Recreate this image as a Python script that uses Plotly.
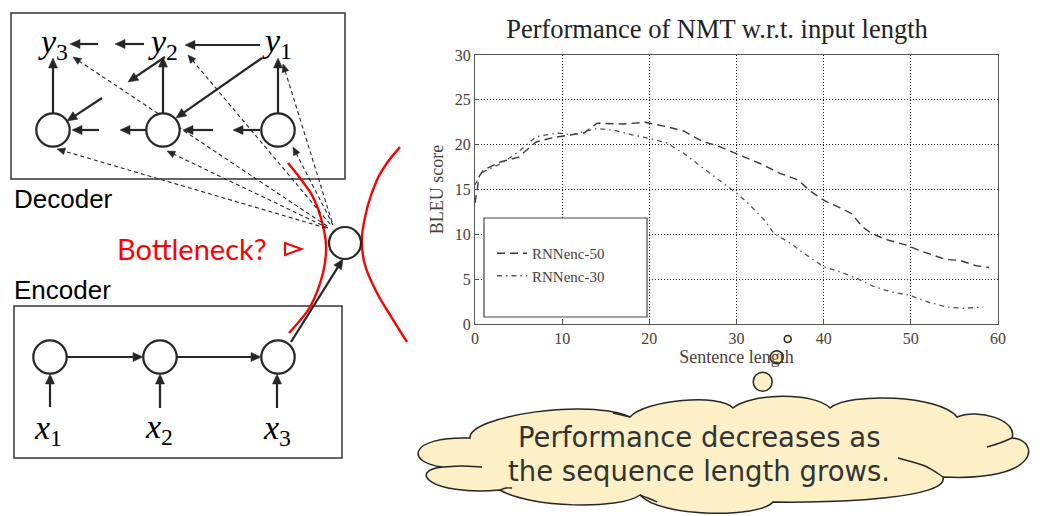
import math
import plotly.graph_objects as go

W, H = 1040, 516          # target picture
OFF = 8                   # page body margin
FW, FH = W - OFF, H - OFF  # figure size that fits the window

# ---------------- data ----------------
title_text = "Performance of NMT w.r.t. input length"
x_title = "Sentence length"
y_title = "BLEU score"
series_names = ["RNNenc-50", "RNNenc-30"]
x_ticks = [0, 10, 20, 30, 40, 50, 60]
y_ticks = [0, 5, 10, 15, 20, 25, 30]

len_50 = [0, 0.5, 1, 3, 5, 7, 9, 11, 12.5, 14, 17, 19.5, 22, 24, 26, 28, 30,
          32.7, 35, 37, 38.5, 40, 42, 43.2, 44.5, 45.5, 47.2, 49.5, 51, 52.6,
          54, 55.6, 57.5, 59]
bleu_50 = [13.5, 16.5, 17.2, 18.1, 18.6, 20.3, 20.8, 21.1, 21.3, 22.4, 22.3,
           22.5, 22.0, 21.5, 20.4, 19.8, 19.0, 17.9, 16.8, 16.1, 14.8, 13.8,
           12.9, 12.3, 10.8, 10.1, 9.4, 8.8, 8.2, 7.7, 7.2, 7.1, 6.5, 6.3]

len_30 = [0, 0.5, 1, 3, 5, 7, 9.5, 11, 14, 16, 18, 20, 22, 24, 26, 28, 30,
          31.3, 33.2, 34.3, 36.2, 37.7, 40, 41.9, 43.8, 45.7, 47.6, 49.9,
          51.8, 54.1, 56, 58.3]
bleu_30 = [15.5, 16.5, 17.0, 17.9, 19.2, 20.9, 21.3, 21.1, 21.8, 21.6, 21.1,
           20.7, 20.2, 19.0, 17.5, 16.1, 14.6, 13.5, 11.6, 10.1, 9.0, 7.9, 6.4,
           5.8, 5.1, 4.2, 3.6, 3.2, 2.5, 1.9, 1.75, 1.9]

decoder_label = "Decoder"
encoder_label = "Encoder"
bottleneck_label = "Bottleneck?"
cloud_lines = ["Performance decreases as", "the sequence length grows."]
out_labels = ["<i>y</i><sub>1</sub>", "<i>y</i><sub>2</sub>", "<i>y</i><sub>3</sub>"]
in_labels = ["<i>x</i><sub>1</sub>", "<i>x</i><sub>2</sub>", "<i>x</i><sub>3</sub>"]

# ---------------- helpers (window pixel -> paper) ----------------
def PX(x):
    return (x - OFF) / FW

def PY(y):
    return 1 - (y - OFF) / FH

def P(x, y):
    return PX(x), PY(y)

def fmt(p):
    x, y = P(*p)
    return f"{x:.5f},{y:.5f}"

def poly_path(pts, close=False):
    s = "M " + " L ".join(fmt(p) for p in pts)
    return s + (" Z" if close else "")

def smooth_path(pts):
    s = "M " + fmt(pts[0])
    n = len(pts)
    for i in range(n - 1):
        p0 = pts[i - 1] if i > 0 else pts[i]
        p1 = pts[i]
        p2 = pts[i + 1]
        p3 = pts[i + 2] if i + 2 < n else pts[i + 1]
        c1 = (p1[0] + (p2[0] - p0[0]) / 6, p1[1] + (p2[1] - p0[1]) / 6)
        c2 = (p2[0] - (p3[0] - p1[0]) / 6, p2[1] - (p3[1] - p1[1]) / 6)
        s += f" C {fmt(c1)} {fmt(c2)} {fmt(p2)}"
    return s

shapes = []
annotations = []
INK = "#262626"

def line_shape(pts, color=INK, width=2.2, dash=None, smooth=False):
    d = dict(type="path", xref="paper", yref="paper",
             path=smooth_path(pts) if smooth else poly_path(pts),
             line=dict(color=color, width=width))
    if dash:
        d["line"]["dash"] = dash
    shapes.append(d)

def arrow(tail, head, color=INK, width=2.2, dash=None, hl=10, hw=9):
    dx, dy = head[0] - tail[0], head[1] - tail[1]
    L = math.hypot(dx, dy)
    ux, uy = dx / L, dy / L
    nx, ny = -uy, ux
    base = (head[0] - ux * hl, head[1] - uy * hl)
    line_shape([tail, (base[0] + ux * 1, base[1] + uy * 1)], color, width, dash)
    tri = [head, (base[0] + nx * hw / 2, base[1] + ny * hw / 2),
           (base[0] - nx * hw / 2, base[1] - ny * hw / 2)]
    shapes.append(dict(type="path", xref="paper", yref="paper",
                       path=poly_path(tri, close=True), fillcolor=color,
                       line=dict(color=color, width=0.5)))

def circle(cx, cy, r, fill="white", color=INK, width=2.2):
    x0, y1 = P(cx - r, cy - r)
    x1, y0 = P(cx + r, cy + r)
    shapes.append(dict(type="circle", xref="paper", yref="paper",
                       x0=x0, x1=x1, y0=y0, y1=y1, fillcolor=fill,
                       line=dict(color=color, width=width)))

def rect(xa, ya, xb, yb, color="#333333", width=1.5, fill=None, layer="above"):
    x0, y1 = P(xa, ya)
    x1, y0 = P(xb, yb)
    d = dict(type="rect", xref="paper", yref="paper", x0=x0, x1=x1, y0=y0,
             y1=y1, line=dict(color=color, width=width), layer=layer)
    if fill:
        d["fillcolor"] = fill
    shapes.append(d)

def text(x, y, s, size, color="black", family="Liberation Sans",
         xanchor="center", yanchor="middle"):
    px, py = P(x, y)
    annotations.append(dict(x=px, y=py, xref="paper", yref="paper", text=s,
                            showarrow=False, xanchor=xanchor, yanchor=yanchor,
                            font=dict(size=size, color=color, family=family)))

# ---------------- cloud + bubbles ----------------
CLOUD = "#FEF0C6"
start = (470, 438)
lobes = [
    ((468, 416), (590, 398), (630, 417)),
    ((645, 400), (720, 393), (733, 408)),
    ((750, 393), (815, 392), (830, 408)),
    ((850, 392), (940, 395), (957, 417)),
    ((978, 408), (1018, 420), (1012, 438)),
    ((1040, 440), (1042, 482), (943, 477)),
    ((950, 498), (840, 503), (773, 502)),
    ((760, 518), (660, 518), (640, 495)),
    ((620, 510), (530, 508), (500, 490)),
    ((428, 496), (408, 470), (443, 467)),
    ((405, 463), (408, 436), (470, 438)),
]
cloud = "M " + fmt(start)
for c1, c2, e in lobes:
    cloud += f" C {fmt(c1)} {fmt(c2)} {fmt(e)}"
cloud += " Z"
shapes.append(dict(type="path", xref="paper", yref="paper", path=cloud,
                   fillcolor=CLOUD, line=dict(color=INK, width=1.5)))
# inner strokes of the cloud
line_shape([(443, 467), (462, 466), (482, 467)], width=1.4, smooth=True)
line_shape([(1012, 438), (1000, 443), (987, 447)], width=1.4, smooth=True)
line_shape([(943, 477), (925, 466), (898, 458)], width=1.4, smooth=True)
line_shape([(630, 417), (622, 415), (613, 413)], width=1.4, smooth=True)
line_shape([(640, 495), (648, 498), (657, 502)], width=1.4, smooth=True)
line_shape([(500, 490), (506, 488), (512, 488)], width=1.4, smooth=True)

circle(787.7, 339, 3.5, fill=CLOUD, width=1.5)
circle(776.7, 357.3, 6.5, fill=CLOUD, width=1.5)
circle(762.7, 381.7, 9.5, fill=CLOUD, width=1.5)

# ---------------- diagram ----------------
rect(11, 13, 345, 179)
rect(14, 306, 342, 458)

# red bottleneck curves
RED = "#FF0000"
line_shape([(288, 163), (300, 178), (313, 197), (321, 218), (326, 245),
            (323, 273), (310, 307), (289, 333)], RED, 2.4, smooth=True)
line_shape([(400, 147), (387, 163), (377, 180), (368, 205), (362, 237),
            (365, 265), (377, 293), (392, 318), (407, 342)], RED, 2.4, smooth=True)
shapes.append(dict(type="path", xref="paper", yref="paper",
                   path=poly_path([(285, 243), (301.5, 249), (285, 255)], close=True),
                   fillcolor="white", line=dict(color=RED, width=2)))

# dashed attention lines
dashed = [((327, 226), (73, 57)), ((330, 224), (188, 55)), ((332, 222), (283, 64)),
          ((326, 228), (57, 149)), ((328, 228), (167, 151)), ((333, 225), (293, 147))]
for tail, head in dashed:
    arrow(tail, head, width=1.1, dash="4px,3px", hl=8, hw=7)

# decoder arrows
for tail, head in [((260, 45), (185, 45)), ((144, 44), (115, 44)), ((98, 44), (70, 44)),
                   ((278, 113), (278, 58)), ((163, 113), (163, 57)), ((53, 113), (53, 58)),
                   ((262, 58), (176, 118)), ((165, 57), (128, 82)), ((102, 98), (67, 121)),
                   ((260, 130), (233, 130)), ((213, 130), (183, 130)),
                   ((147, 130), (120, 130)), ((99, 130), (72, 130))]:
    arrow(tail, head)

# encoder arrows
for tail, head in [((67, 357), (143, 357)), ((177, 357), (261, 357)),
                   ((50, 407), (50, 374)), ((160, 408), (160, 374)), ((277, 408), (277, 374)),
                   ((291, 342), (343, 259))]:
    arrow(tail, head)

for cx, cy in [(53, 130), (163, 130), (278, 130), (50, 357), (160, 357), (278, 357)]:
    circle(cx, cy, 16.7)
circle(345, 243, 16)

text(12, 199, decoder_label, 26, xanchor="left")
text(12, 290, encoder_label, 26, xanchor="left")
text(269, 248, bottleneck_label, 29, color=RED, family="Lato", xanchor="right")
for s, (x, y) in zip(out_labels, [(277, 43), (163, 44), (53, 44)]):
    text(x, y, s, 34, family="Liberation Serif")
for s, (x, y) in zip(in_labels, [(48, 430), (159, 429), (277, 430)]):
    text(x, y, s, 34, family="Liberation Serif")

text(699, 437, cloud_lines[0], 27.5, color="#333333", family="DejaVu Sans")
text(699, 471, cloud_lines[1], 27.5, color="#333333", family="DejaVu Sans")

# legend frame
rect(484, 218, 647, 317, color="#444444", width=1.2, fill="white")

# ---------------- chart ----------------
TXT = "#4a4038"
fig = go.Figure()
fig.add_trace(go.Scatter(x=len_50, y=bleu_50, mode="lines", name=series_names[0],
                         line=dict(color="#3a3a3a", width=1.4, dash="8px,5px")))
fig.add_trace(go.Scatter(x=len_30, y=bleu_30, mode="lines", name=series_names[1],
                         line=dict(color="#555555", width=1.3, dash="5px,4px,1.5px,4px")))

axis_common = dict(showgrid=True, gridcolor="#222222", griddash="1px,2px", gridwidth=1,
                   showline=True, mirror=True, linecolor="#555555", linewidth=1.2,
                   ticks="inside", ticklen=4, tickcolor="#555555", zeroline=False,
                   automargin=False,
                   tickfont=dict(family="Liberation Serif", size=16, color=TXT))
fig.update_layout(
    width=FW, height=FH, margin=dict(l=0, r=0, t=0, b=0, pad=0), autosize=False,
    paper_bgcolor="white", plot_bgcolor="white",
    title=dict(text=title_text, x=PX(717), y=PY(29), xanchor="center",
               yanchor="middle", automargin=False,
               font=dict(family="Liberation Serif", size=26.5, color="#222222")),
    xaxis=dict(domain=[PX(475), PX(998)], range=[0, 60], tickvals=x_ticks,
               title=dict(text=x_title, standoff=4,
                          font=dict(family="Liberation Serif", size=18, color=TXT)),
               **axis_common),
    yaxis=dict(domain=[PY(324), PY(55)], range=[0, 30], tickvals=y_ticks,
               title=dict(text=y_title, standoff=6,
                          font=dict(family="Liberation Serif", size=18, color=TXT)),
               **axis_common),
    showlegend=True,
    legend=dict(x=PX(492), y=PY(237), xanchor="left", yanchor="top",
                bgcolor="rgba(0,0,0,0)", borderwidth=0, itemwidth=30,
                font=dict(family="Liberation Serif", size=15, color=TXT)),
    shapes=shapes, annotations=annotations,
)
fig.write_html("out.html")
